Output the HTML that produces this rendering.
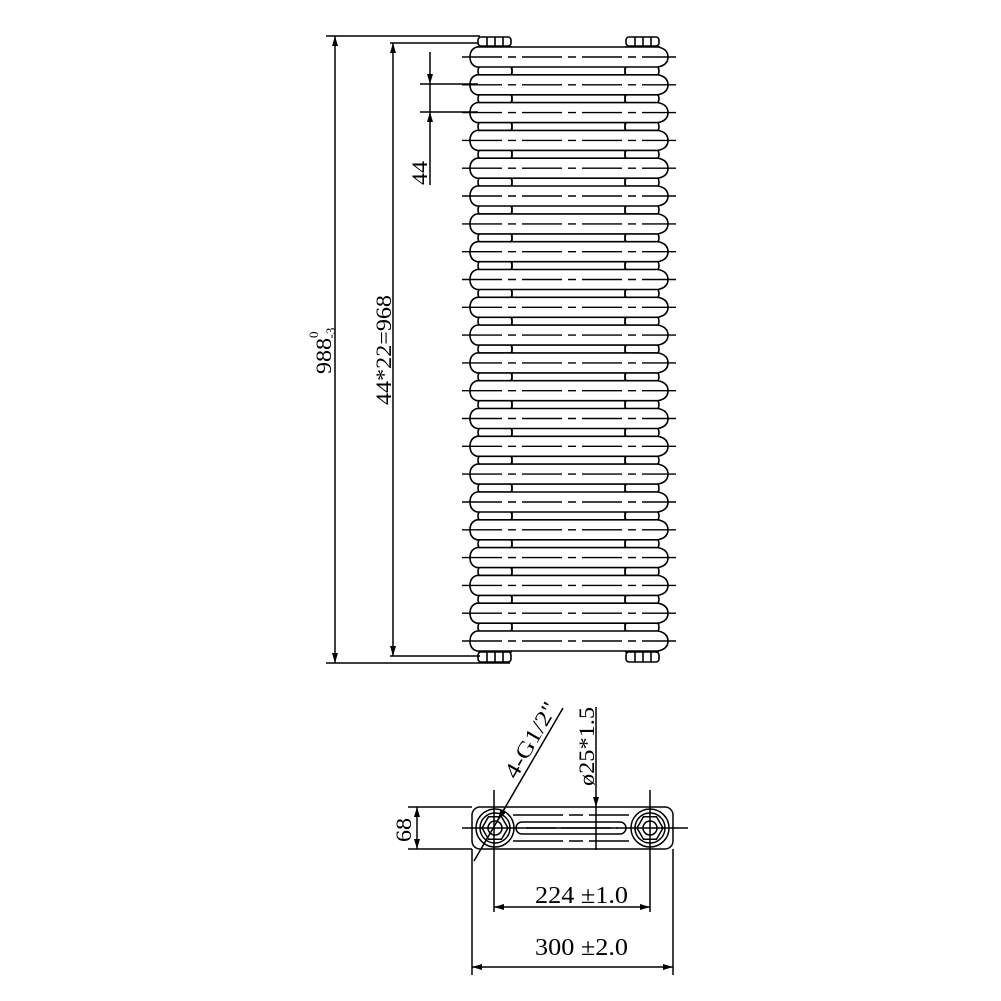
<!DOCTYPE html>
<html><head><meta charset="utf-8"><style>
html,body{margin:0;padding:0;background:#fff;}
svg{display:block;}
text{font-family:"Liberation Serif",serif;fill:#000;}
</style></head><body>
<svg width="1001" height="1001" viewBox="0 0 1001 1001" xmlns="http://www.w3.org/2000/svg">
<defs>
<marker id="a" viewBox="0 0 10 6" refX="10" refY="3" markerWidth="10" markerHeight="6" orient="auto-start-reverse" markerUnits="userSpaceOnUse">
<path d="M0,0 L10,3 L0,6 z" fill="#000"/></marker>
<g id="tube" fill="none" stroke="#000" stroke-width="1.6">
<path d="M477,-10 Q470,-8 470,0 Q470,8 477,10 L658,10 Q668,8 668,0 Q668,-8 658,-10 Z" fill="#fff"/>
<line x1="462" y1="0" x2="676" y2="0" stroke-width="1.4" stroke-dasharray="40,6,8,6"/>
<path d="M479,10 Q477,14 479,18 L511,18 Q513,14 511,10"/>
<path d="M626,10 Q624,14 626,18 L658,18 Q660,14 658,10"/>
<path d="M479,18 Q477,22 479,26 M511,18 Q513,22 511,26 M626,18 Q624,22 626,26 M658,18 Q660,22 658,26"/>
<line x1="512" y1="10" x2="512" y2="18"/><line x1="625" y1="10" x2="625" y2="18"/>
</g>
</defs>
<g fill="none" stroke="#000" stroke-width="1.6">
<rect x="478" y="37" width="33" height="9" rx="3"/>
<line x1="487" y1="37" x2="487" y2="46"/><line x1="495" y1="37" x2="495" y2="46"/><line x1="503" y1="37" x2="503" y2="46"/>
<rect x="626" y="37" width="33" height="9" rx="3"/>
<line x1="635" y1="37" x2="635" y2="46"/><line x1="643" y1="37" x2="643" y2="46"/><line x1="651" y1="37" x2="651" y2="46"/>
<line x1="478" y1="46" x2="478" y2="48"/><line x1="511" y1="46" x2="511" y2="48"/>
<line x1="626" y1="46" x2="626" y2="48"/><line x1="659" y1="46" x2="659" y2="48"/>
<rect x="478" y="652" width="33" height="10" rx="3"/>
<line x1="487" y1="652" x2="487" y2="662"/><line x1="495" y1="652" x2="495" y2="662"/><line x1="503" y1="652" x2="503" y2="662"/>
<rect x="626" y="652" width="33" height="10" rx="3"/>
<line x1="635" y1="652" x2="635" y2="662"/><line x1="643" y1="652" x2="643" y2="662"/><line x1="651" y1="652" x2="651" y2="662"/>
</g>
<g>
<use href="#tube" y="57"/><use href="#tube" y="84.8"/><use href="#tube" y="112.6"/><use href="#tube" y="140.4"/>
<use href="#tube" y="168.2"/><use href="#tube" y="196"/><use href="#tube" y="223.9"/><use href="#tube" y="251.7"/>
<use href="#tube" y="279.5"/><use href="#tube" y="307.3"/><use href="#tube" y="335.1"/><use href="#tube" y="362.9"/>
<use href="#tube" y="390.7"/><use href="#tube" y="418.5"/><use href="#tube" y="446.3"/><use href="#tube" y="474.1"/>
<use href="#tube" y="502"/><use href="#tube" y="529.8"/><use href="#tube" y="557.6"/><use href="#tube" y="585.4"/>
<use href="#tube" y="613.2"/>
</g>
<g fill="none" stroke="#000" stroke-width="1.6" transform="translate(0,641)">
<path d="M477,-10 Q470,-8 470,0 Q470,8 477,10 L658,10 Q668,8 668,0 Q668,-8 658,-10 Z" fill="#fff"/>
<line x1="462" y1="0" x2="676" y2="0" stroke-width="1.4" stroke-dasharray="40,6,8,6"/>
<line x1="479" y1="10" x2="479" y2="12"/><line x1="511" y1="10" x2="511" y2="12"/>
<line x1="626" y1="10" x2="626" y2="12"/><line x1="658" y1="10" x2="658" y2="12"/>
</g>
<g stroke="#000" stroke-width="1.5" fill="none">
<line x1="326" y1="36" x2="480" y2="36"/>
<line x1="326" y1="663" x2="510" y2="663"/>
<line x1="335" y1="36" x2="335" y2="663" marker-start="url(#a)" marker-end="url(#a)"/>
<line x1="390" y1="43" x2="478" y2="43"/>
<line x1="390" y1="656" x2="480" y2="656"/>
<line x1="393" y1="43" x2="393" y2="656" marker-start="url(#a)" marker-end="url(#a)"/>
<line x1="420" y1="84" x2="478" y2="84"/>
<line x1="420" y1="112" x2="478" y2="112"/>
<line x1="430" y1="52" x2="430" y2="84" marker-end="url(#a)"/>
<line x1="430" y1="84" x2="430" y2="112"/>
<line x1="430" y1="185" x2="430" y2="112" marker-end="url(#a)"/>
</g>
<text transform="translate(331,374) rotate(-90)" font-size="22"><tspan textLength="36" lengthAdjust="spacingAndGlyphs">988</tspan><tspan font-size="13" dy="-13">0</tspan><tspan font-size="13" dx="-7" dy="17">-3</tspan></text>
<text transform="translate(391,405) rotate(-90)" font-size="22" textLength="110" lengthAdjust="spacingAndGlyphs">44*22=968</text>
<text transform="translate(427,185) rotate(-90)" font-size="22" textLength="24" lengthAdjust="spacingAndGlyphs">44</text>
<g stroke="#000" stroke-width="1.5" fill="none">
<rect x="472" y="807" width="201" height="42" rx="8"/>
<circle cx="495" cy="828" r="19"/><circle cx="495" cy="828" r="15"/>
<polygon points="508,828 501.5,839.3 488.5,839.3 482,828 488.5,816.7 501.5,816.7"/>
<circle cx="495" cy="828" r="7"/>
<circle cx="650" cy="828" r="19"/><circle cx="650" cy="828" r="15"/>
<polygon points="663,828 656.5,839.3 643.5,839.3 637,828 643.5,816.7 656.5,816.7"/>
<circle cx="650" cy="828" r="7"/>
<rect x="516" y="822" width="110" height="12" rx="6"/>
<line x1="526" y1="828" x2="618" y2="828" stroke-dasharray="30,5,50,5"/>
<line x1="513" y1="815" x2="632" y2="815" stroke-dasharray="50,6,14,6,40"/>
<line x1="513" y1="841" x2="632" y2="841" stroke-dasharray="50,6,14,6,40"/>
<line x1="462" y1="828" x2="688" y2="828"/>
<line x1="494" y1="790" x2="494" y2="912"/>
<line x1="650" y1="790" x2="650" y2="912"/>
<line x1="472" y1="849" x2="472" y2="975"/>
<line x1="673" y1="849" x2="673" y2="975"/>
<line x1="494" y1="907" x2="650" y2="907" marker-start="url(#a)" marker-end="url(#a)"/>
<line x1="472" y1="967" x2="673" y2="967" marker-start="url(#a)" marker-end="url(#a)"/>
<line x1="408" y1="807" x2="472" y2="807"/>
<line x1="408" y1="849" x2="472" y2="849"/>
<line x1="417" y1="807" x2="417" y2="849" marker-start="url(#a)" marker-end="url(#a)"/>
<line x1="474" y1="861" x2="563" y2="708"/>
<line x1="506" y1="806" x2="498" y2="820" marker-end="url(#a)"/>
<line x1="596" y1="707" x2="596" y2="807" marker-end="url(#a)"/>
<line x1="596" y1="807" x2="596" y2="850"/>
</g>
<text transform="translate(411,842) rotate(-90)" font-size="22" textLength="24" lengthAdjust="spacingAndGlyphs">68</text>
<text transform="translate(516,780) rotate(-60)" font-size="22" textLength="84" lengthAdjust="spacingAndGlyphs">4-G1/2"</text>
<text transform="translate(594,786) rotate(-90)" font-size="22" textLength="79" lengthAdjust="spacingAndGlyphs">ø25*1.5</text>
<text x="535" y="903" font-size="24" textLength="93" lengthAdjust="spacingAndGlyphs">224 ±1.0</text>
<text x="535" y="955" font-size="24" textLength="93" lengthAdjust="spacingAndGlyphs">300 ±2.0</text>
</svg>
</body></html>
